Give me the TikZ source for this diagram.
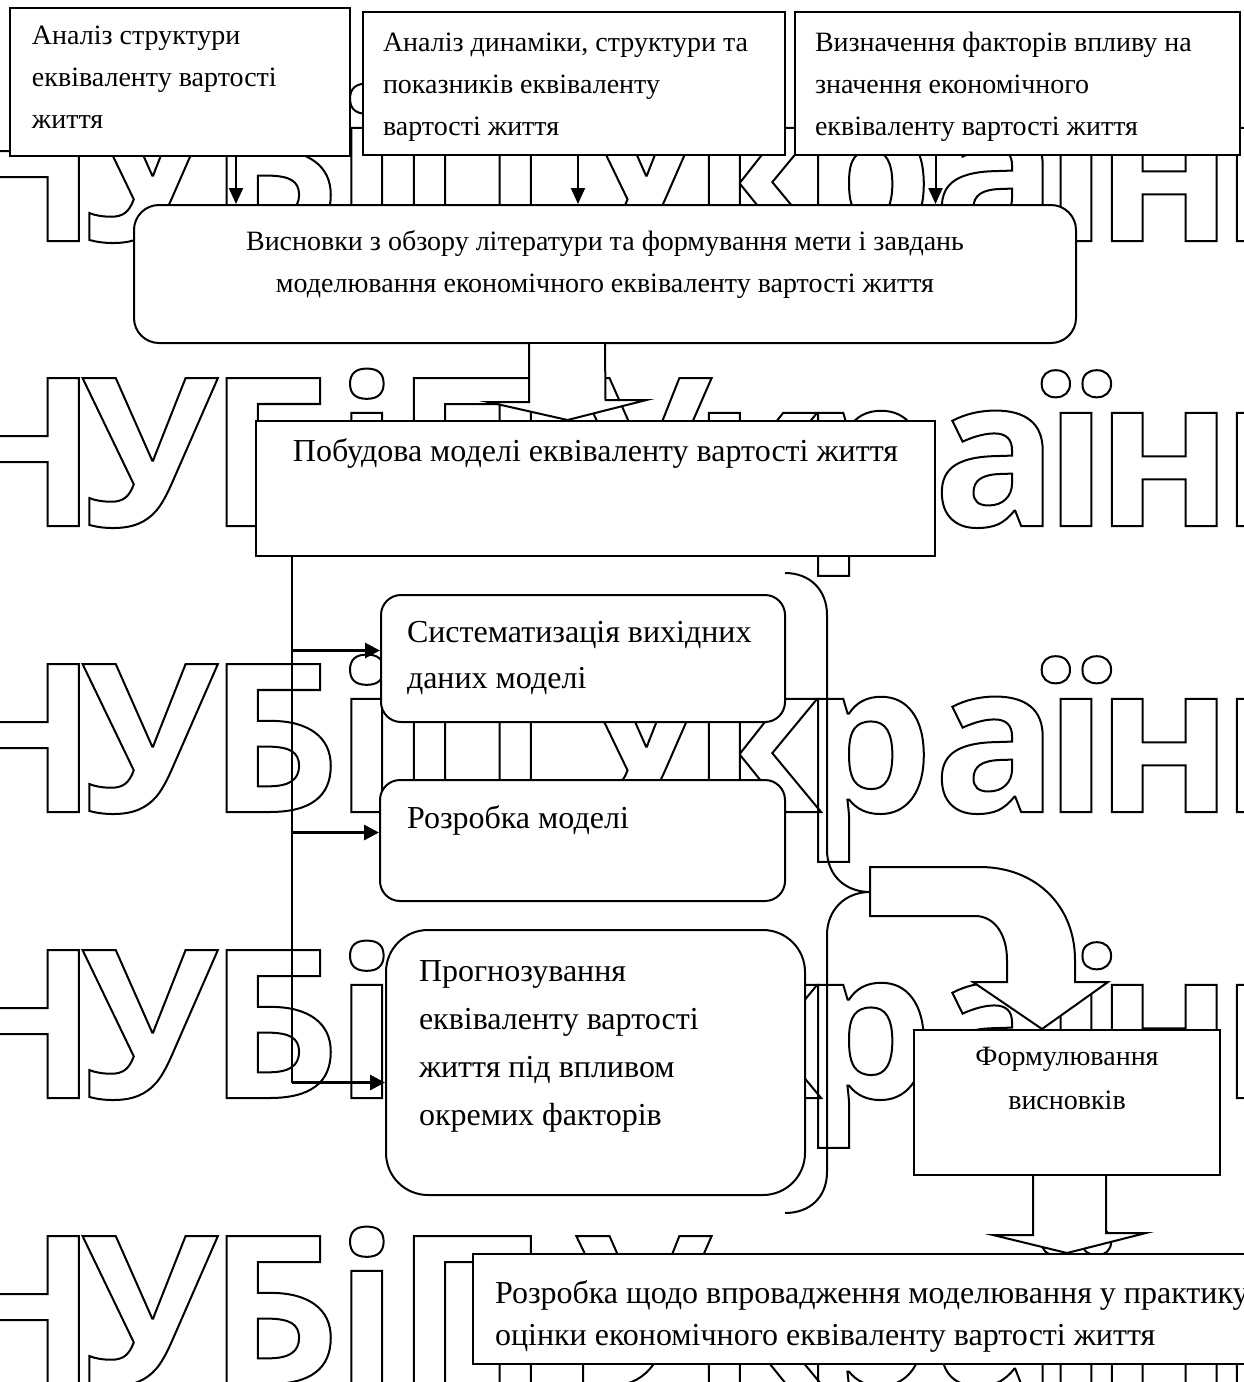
\documentclass[tikz,border=0pt]{standalone}
\usepackage{fontspec}
\setmainfont{Liberation Serif}
\newfontfamily\wmfont{Open Sans}
\usepackage{tikz}
\usetikzlibrary{positioning,fit,calc,arrows.meta}
\makeatletter
\newcommand\wmoutline[1]{\pgfsys@invoke{1 Tr 1 w}#1\pgfsys@invoke{0 Tr}}
\makeatother
\newcommand\wmline{Н\kern-7.5pt У\kern-5pt Б\kern-2.5pt і\kern-1.5pt П\kern-13.5pt\ У\kern-9.5pt к\kern-9.5pt р\kern0pt а\kern-7pt ї\kern-6pt н\kern-6pt и}

\begin{document}
\begin{tikzpicture}[
    x=0.5pt, y=-0.5pt,
    line width=1pt,
    node distance=2mm,
    box/.style={draw, fill=white, line width=1pt, inner sep=0pt},
    rbox/.style={box, rounded corners=#1},
    rbox/.default=10pt,
    txt/.style={font=\fontsize{14}{21}\selectfont, inner sep=0pt, align=left},
    bigtxt/.style={txt, font=\fontsize{16}{23}\selectfont},
    wmark/.style={font=\wmfont\bfseries\fontsize{103.6}{110}\selectfont, inner sep=0pt, anchor=base west},
    arr/.style={line width=1pt, -{Triangle[length=8pt,width=7pt]}},
    harr/.style={line width=1.5pt, -{Triangle[length=7.5pt,width=7.5pt]}},
    spine/.style={line width=0.8pt},
    hollow/.style={draw, fill=white, line width=1pt, line join=miter}
  ]
    \useasboundingbox (0,0) rectangle (1243,1382);

    % watermark rows
    \node (wm-1) [wmark] at (-62,241) {\wmoutline{\wmline}};
    \node (wm-2) [wmark] at (-62,526) {\wmoutline{\wmline}};
    \node (wm-3) [wmark] at (-62,812) {\wmoutline{\wmline}};
    \node (wm-4) [wmark] at (-62,1098) {\wmoutline{\wmline}};
    \node (wm-5) [wmark] at (-62,1384) {\wmoutline{\wmline}};

    % top row
    \node (anl-struct) [box, fit={(10,8) (350,156)}] {};
    \node (anl-struct-t) [txt, below right=9pt and 11pt of anl-struct.north west] {Аналіз структури\\еквіваленту вартості\\життя};
    \node (anl-dyn) [box, fit={(363,12) (785,155)}] {};
    \node (anl-dyn-t) [txt, below right=10.5pt and 10pt of anl-dyn.north west] {Аналіз динаміки, структури та\\показників еквіваленту\\вартості життя};
    \node (factors) [box, fit={(795,12) (1240,155)}] {};
    \node (factors-t) [txt, below right=10pt and 10pt of factors.north west] {Визначення факторів впливу на\\значення економічного\\еквіваленту вартості життя};

    \node (concl) [rbox=12.5pt, fit={(134,205) (1076,343)}] {};
    \node (concl-t) [txt, align=center, below=12.5pt of concl.north] {Висновки з обзору літератури та формування мети і завдань\\моделювання економічного еквіваленту вартості життя};

    \coordinate (anl-struct-out) at ([xshift=28pt]anl-struct.south);
    \coordinate (anl-dyn-out) at ([xshift=2pt]anl-dyn.south);
    \coordinate (factors-out) at ([xshift=-41pt]factors.south);
    \draw[arr] (anl-struct-out) -- (anl-struct-out |- concl.north);
    \draw[arr] (anl-dyn-out) -- (anl-dyn-out |- concl.north);
    \draw[arr] (factors-out) -- (factors-out |- concl.north);

    % model building
    \node (build) [box, fit={(256,421) (935,556)}] {};
    \node (build-t) [bigtxt, below=9pt of build.north] {Побудова моделі еквіваленту вартості життя};
    \draw[hollow] ([xshift=-38pt]concl.south) -- ++(0,58) -- ++(-41,0) -- ([xshift=-14pt]build.north) -- ++(79,-20) -- ++(-41,0) -- (concl.south);

    \node (sys) [rbox, fit={(381,595) (785,722)}] {};
    \node (sys-t) [bigtxt, below right=13pt and 13pt of sys.north west] {Систематизація вихідних\\даних моделі};
    \node (dev) [rbox, fit={(380,780) (785,901)}] {};
    \node (dev-t) [bigtxt, below right=13pt and 13.5pt of dev.north west] {Розробка моделі};
    \node (fcst) [rbox=21pt, fit={(386,930) (805,1195)}] {};
    \node (fcst-t) [bigtxt, font=\fontsize{16}{24}\selectfont, below right=15.5pt and 16.5pt of fcst.north west] {Прогнозування\\еквіваленту вартості\\життя під впливом\\окремих факторів};

    \coordinate (spine) at ([xshift=18.5pt]build.south west);
    \coordinate (sys-in) at ([yshift=4pt]sys.west);
    \coordinate (dev-in) at ([yshift=4pt]dev.west);
    \coordinate (fcst-in) at ([yshift=-10pt]fcst.west);
    \draw[spine] (spine) -- (spine |- fcst-in);
    \draw[harr] (spine |- sys-in) -- (sys-in);
    \draw[harr] (spine |- dev-in) -- (dev-in);
    \draw[harr] (spine |- fcst-in) -- (fcst-in);

    % brace and bent arrow
    \coordinate (brace-tip) at (870,892);
    \draw (785,573) .. controls (810,573) and (827,590) .. (827,615) -- (827,850)
      .. controls (827,875) and (845,892) .. (brace-tip)
      .. controls (845,892) and (827,910) .. (827,935) -- (827,1172)
      .. controls (827,1197) and (810,1213) .. (785,1213);

    \node (formul) [box, fit={(914,1030) (1220,1175)}] {};
    \node (formul-t) [txt, align=center, font=\fontsize{14}{22}\selectfont, below=8.5pt of formul.north] {Формулювання\\висновків};

    \draw[hollow] ([yshift=12.5pt]brace-tip) -- (980,867) .. controls (1035,867) and (1075,905) .. (1075,960)
      -- (1075,982) -- (1108,982) -- ([xshift=-12.5pt]formul.north) -- (973,982) -- (1007,982) -- (1007,960)
      .. controls (1007,935) and (995,916) .. (975,916) -- ([yshift=-12pt]brace-tip) -- cycle;

    \node (impl) [box, fit={(473,1254) (1300,1364)}] {};
    \node (impl-t) [bigtxt, font=\fontsize{16}{21}\selectfont, below right=13.5pt and 11pt of impl.north west] {Розробка щодо впровадження моделювання у практику\\оцінки економічного еквіваленту вартості життя};
    \draw[hollow] ([xshift=-17pt]formul.south) -- ++(0,59) -- ++(-40,0) -- (formul.south |- impl.north) -- ++(79,-20) -- ++(-40,0) -- ([xshift=19.5pt]formul.south);
\end{tikzpicture}
\end{document}
